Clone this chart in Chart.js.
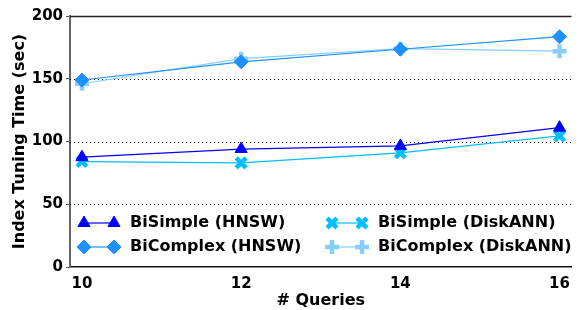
<!DOCTYPE html>
<html lang="en">
<head>
    <meta charset="UTF-8">
    <title>Index Tuning Time</title>
    <script src="https://cdn.jsdelivr.net/npm/chart.js"></script>
    <style>
        html, body { margin: 0; padding: 0; background: #fff; }
        #wrap { width: 583px; height: 310px; }
    </style>
</head>
<body>
    <div id="wrap"><canvas id="chart" width="583" height="310"></canvas></div>

    <script>
        const queries = [10, 12, 14, 16];
        const yTicks = [0, 50, 100, 150, 200];

        const biSimpleHnsw = [87.5, 94, 96.5, 111];
        const biComplexHnsw = [149, 163.5, 173.5, 183.5];
        const biSimpleDisk = [84, 83, 91, 104.5];
        const biComplexDisk = [146, 166, 174, 172];

        const FONT = "'DejaVu Sans', sans-serif";

        function series(label, values, color, style, bw) {
            return {
                label: label,
                data: values.map((v, i) => ({ x: queries[i], y: v })),
                borderColor: color,
                backgroundColor: color,
                borderWidth: 1.2,
                pointStyle: style,
                pointRadius: 7,
                pointBorderWidth: bw,
                pointBorderColor: color,
                pointBackgroundColor: color,
                tension: 0
            };
        }

        const datasets = [
            series("BiSimple (HNSW)", biSimpleHnsw, "#0000ff", "triangle", 1),
            series("BiComplex (HNSW)", biComplexHnsw, "#1e90ff", "rectRot", 1),
            series("BiSimple (DiskANN)", biSimpleDisk, "#00bfff", "crossRot", 4.5),
            series("BiComplex (DiskANN)", biComplexDisk, "#87cefa", "cross", 4.5)
        ];

        // dotted grid lines + solid top line, under the data
        const gridPlugin = {
            id: "gridLines",
            beforeDatasetsDraw(chart) {
                const ctx = chart.ctx, a = chart.chartArea, y = chart.scales.y;
                ctx.save();
                yTicks.forEach(t => {
                    if (t === 0) return;
                    const py = Math.round(y.getPixelForValue(t)) + 0.5;
                    ctx.beginPath();
                    if (t === 200) {
                        ctx.setLineDash([]);
                        ctx.strokeStyle = "#222";
                        ctx.lineWidth = 1.5;
                    } else {
                        ctx.setLineDash([1, 3]);
                        ctx.strokeStyle = "#000";
                        ctx.lineWidth = 1;
                    }
                    ctx.moveTo(a.left, py);
                    ctx.lineTo(a.right, py);
                    ctx.stroke();
                });
                ctx.restore();
            }
        };

        // legend inside the plot, two columns
        const legendPlugin = {
            id: "innerLegend",
            afterDraw(chart) {
                const ctx = chart.ctx;
                ctx.save();
                chart.data.datasets.forEach((ds, i) => {
                    const col = Math.floor(i / 2), row = i % 2;
                    const x0 = col === 0 ? 84 : 332;
                    const yy = 223 + row * 24;
                    ctx.strokeStyle = ds.borderColor;
                    ctx.lineWidth = 1.2;
                    ctx.beginPath();
                    ctx.moveTo(x0, yy);
                    ctx.lineTo(x0 + 30, yy);
                    ctx.stroke();
                    [x0, x0 + 30].forEach(px => {
                        ctx.fillStyle = ds.borderColor;
                        ctx.strokeStyle = ds.borderColor;
                        ctx.lineWidth = ds.pointBorderWidth;
                        Chart.helpers.drawPoint(ctx, {
                            pointStyle: ds.pointStyle,
                            radius: 7,
                            rotation: 0,
                            borderWidth: ds.pointBorderWidth
                        }, px, yy);
                    });
                    ctx.font = "bold 16px " + FONT;
                    ctx.textBaseline = "middle";
                    ctx.fillStyle = "#000";
                    ctx.fillText(ds.label, x0 + 46, yy);
                });
                ctx.restore();
            }
        };

        new Chart(document.getElementById("chart"), {
            type: "line",
            data: { datasets: datasets },
            options: {
                responsive: false,
                animation: false,
                layout: { padding: { top: 16, right: 0, left: 10, bottom: 0 } },
                plugins: { legend: { display: false }, tooltip: { enabled: false } },
                scales: {
                    x: {
                        type: "linear",
                        min: 9.85,
                        max: 16.15,
                        afterBuildTicks: s => { s.ticks = queries.map(v => ({ value: v })); },
                        afterFit: s => { s.height = 43; },
                        grid: { display: false },
                        border: { display: true, color: "#111", width: 1.5 },
                        ticks: { color: "#000", font: { family: FONT, size: 15, weight: "bold" }, padding: 0, maxRotation: 0 },
                        title: { display: true, text: "# Queries", color: "#000", font: { family: FONT, size: 16, weight: "bold" }, padding: { top: 0, bottom: 0 } }
                    },
                    y: {
                        min: 0,
                        max: 200,
                        afterBuildTicks: s => { s.ticks = yTicks.map(v => ({ value: v })); },
                        afterFit: s => { s.width = 60; },
                        grid: { display: true, drawOnChartArea: false, drawTicks: true, tickLength: 4, color: "#555", lineWidth: 1 },
                        border: { display: true, color: "#666", width: 2 },
                        ticks: { color: "#000", font: { family: FONT, size: 15, weight: "bold" }, padding: 3 },
                        title: { display: true, text: "Index Tuning Time (sec)", color: "#000", font: { family: FONT, size: 16, weight: "bold" }, padding: { top: 0, bottom: 1 } }
                    }
                }
            },
            plugins: [gridPlugin, legendPlugin]
        });
    </script>
</body>
</html>
